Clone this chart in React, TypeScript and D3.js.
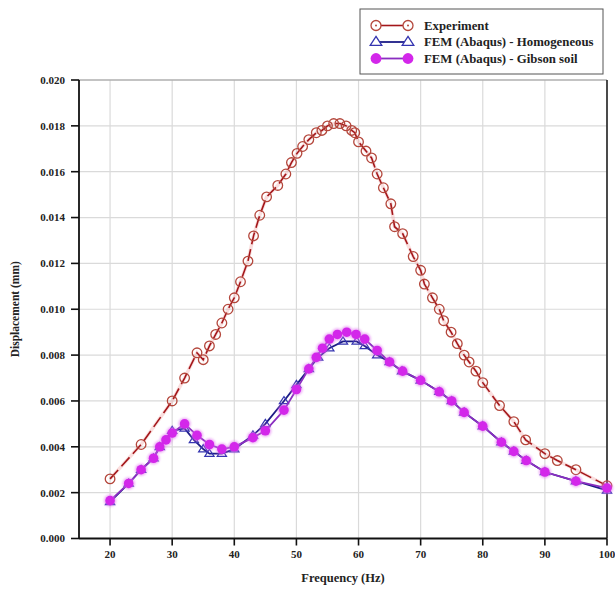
import React from "react";
import * as d3 from "d3";

// Frequency sweep results: measured response vs. two FE models
const expFreq = [20, 25, 30, 32, 34, 35, 36, 37, 38, 39, 40, 41, 42.2, 43.1, 44.1, 45.2, 47, 48.3, 49.2, 50.1, 51, 52, 53.2, 54.1, 55, 56, 57, 58, 58.9, 59.4, 60, 61.2, 62.1, 63, 64, 65.2, 65.8, 67.1, 68.8, 70, 70.6, 71.9, 73, 73.7, 74.9, 75.9, 77, 77.8, 78.9, 80, 82.7, 85, 86.9, 90, 92, 95, 100];
const expDisp = [0.0026, 0.0041, 0.006, 0.007, 0.0081, 0.0078, 0.0084, 0.0089, 0.0094, 0.01, 0.0105, 0.0112, 0.0121, 0.0132, 0.0141, 0.0149, 0.0154, 0.0159, 0.0164, 0.0168, 0.0171, 0.0174, 0.0177, 0.0178, 0.018, 0.0181, 0.0181, 0.018, 0.0178, 0.0177, 0.0173, 0.0169, 0.0166, 0.0159, 0.0153, 0.0146, 0.0136, 0.0133, 0.0123, 0.0117, 0.0111, 0.0105, 0.01, 0.0095, 0.009, 0.0085, 0.008, 0.0077, 0.0073, 0.0068, 0.0058, 0.0051, 0.0043, 0.0037, 0.0034, 0.003, 0.0023];

const homFreq = [20, 23, 25, 27, 28, 30, 32, 33.5, 35, 36, 38, 40, 43, 45, 48, 50, 52, 53.5, 55.3, 57.5, 59.7, 61, 63, 65, 67, 70, 73, 75, 77, 80, 83, 85, 87, 90, 95, 100];
const homDisp = [0.0016, 0.0024, 0.003, 0.0035, 0.004, 0.0047, 0.0048, 0.0043, 0.0039, 0.0037, 0.0037, 0.0039, 0.0045, 0.005, 0.006, 0.0067, 0.0074, 0.0079, 0.0083, 0.0086, 0.0086, 0.0084, 0.008, 0.0077, 0.0073, 0.0069, 0.0064, 0.006, 0.0055, 0.0049, 0.0042, 0.0038, 0.0034, 0.0029, 0.0025, 0.0021];

const gibFreq = [20, 23, 25, 27, 28, 29, 30, 32, 34, 36, 38, 40, 43, 45, 48, 50, 52, 53.2, 54.2, 55.3, 56.6, 58.1, 59.6, 61, 63, 65, 67.1, 70, 73, 75, 77, 80, 83, 85, 87, 90, 95, 100];
const gibDisp = [0.00165, 0.0024, 0.003, 0.0035, 0.004, 0.0043, 0.0046, 0.005, 0.0045, 0.0041, 0.0039, 0.004, 0.0044, 0.0047, 0.0056, 0.0065, 0.0074, 0.0079, 0.0083, 0.0087, 0.0089, 0.009, 0.0089, 0.0087, 0.0082, 0.0077, 0.0073, 0.0069, 0.0064, 0.006, 0.0055, 0.0049, 0.0042, 0.0038, 0.0034, 0.0029, 0.0025, 0.0022];

const xTicks = [20, 30, 40, 50, 60, 70, 80, 90, 100];
const yTicks = [0, 0.002, 0.004, 0.006, 0.008, 0.01, 0.012, 0.014, 0.016, 0.018, 0.02];

const seriesNames = ["Experiment", "FEM (Abaqus) - Homogeneous", "FEM (Abaqus) - Gibson soil"];

const W = 615;
const H = 590;
const plot = { left: 79, right: 607, top: 80, bottom: 538.5 };
const FONT = "'Liberation Serif', 'Times New Roman', serif";

const EXP_LINE = "#a3161a";
const EXP_MARK = "#b4473c";
const HOM_LINE = "#1c1c86";
const HOM_MARK = "#3434b0";
const GIB_LINE = "#8a2ec0";
const GIB_MARK = "#d327ea";

function zip(xs: number[], ys: number[]): [number, number][] {
  return xs.map((x, i) => [x, ys[i]]);
}

function triPath(cx: number, cy: number, s: number) {
  const h = s * 0.9;
  return `M${cx},${cy - h * 0.62}L${cx + s * 0.58},${cy + h * 0.38}L${cx - s * 0.58},${cy + h * 0.38}Z`;
}

export default function App() {
  const x = d3.scaleLinear().domain([15, 100]).range([plot.left, plot.right]);
  const y = d3.scaleLinear().domain([0, 0.02]).range([plot.bottom, plot.top]);
  const line = d3
    .line<[number, number]>()
    .x((d) => x(d[0]))
    .y((d) => y(d[1]));

  const exp = zip(expFreq, expDisp);
  const hom = zip(homFreq, homDisp);
  const gib = zip(gibFreq, gibDisp);

  const legX = 360;
  const legY = 9;
  const rowY = [25.5, 42, 58.5];
  const mk0 = 376;
  const mk1 = 408;

  return (
    <div style={{ position: "absolute", left: 0, top: 0 }}>
      <svg width={W} height={H} style={{ display: "block", background: "#fff" }}>
        <defs>
          <filter id="glow" x="-50%" y="-50%" width="200%" height="200%">
            <feGaussianBlur stdDeviation="1.2" />
          </filter>
        </defs>

        {/* grid */}
        <g stroke="#dadada" strokeWidth={1.2}>
          {xTicks.map((t) => (
            <line key={"gx" + t} x1={x(t)} x2={x(t)} y1={plot.top} y2={plot.bottom} />
          ))}
          {yTicks.map((t) => (
            <line key={"gy" + t} x1={plot.left} x2={plot.right} y1={y(t)} y2={y(t)} />
          ))}
        </g>

        {/* frame */}
        <line x1={plot.left} x2={plot.right} y1={plot.top} y2={plot.top} stroke="#9a9a9a" strokeWidth={1} />
        <line x1={plot.right} x2={plot.right} y1={plot.top} y2={plot.bottom} stroke="#222" strokeWidth={1.6} />
        <line x1={plot.left} x2={plot.left} y1={plot.top} y2={plot.bottom} stroke="#111" strokeWidth={1.8} />
        <line x1={plot.left} x2={plot.right} y1={plot.bottom} y2={plot.bottom} stroke="#111" strokeWidth={1.8} />

        {/* axes */}
        <g fontFamily={FONT} fontWeight="bold" fontSize={11} fill="#222">
          {yTicks.map((t) => (
            <g key={"ty" + t}>
              <line x1={plot.left - 8} x2={plot.left} y1={y(t)} y2={y(t)} stroke="#111" strokeWidth={1.6} />
              <text x={plot.left - 14} y={y(t)} dy="0.35em" textAnchor="end">
                {d3.format(".3f")(t)}
              </text>
            </g>
          ))}
          {xTicks.map((t) => (
            <g key={"tx" + t}>
              <line x1={x(t)} x2={x(t)} y1={plot.bottom} y2={plot.bottom + 7} stroke="#111" strokeWidth={1.6} />
              <text x={x(t)} y={plot.bottom + 16} dy="0.35em" textAnchor="middle">
                {t}
              </text>
            </g>
          ))}
          <text x={(plot.left + plot.right) / 2} y={582} textAnchor="middle" fontSize={12.5}>
            Frequency (Hz)
          </text>
          <text
            transform={`translate(19, ${(plot.top + plot.bottom) / 2}) rotate(-90)`}
            textAnchor="middle"
            fontSize={11.5}
          >
            Displacement (mm)
          </text>
        </g>

        {/* experiment */}
        <path d={line(exp) ?? ""} fill="none" stroke="#f2a0a0" strokeWidth={3.5} opacity={0.35} />
        <path d={line(exp) ?? ""} fill="none" stroke={EXP_LINE} strokeWidth={1.6} strokeDasharray="12,5" />
        {exp.map((d, i) => (
          <circle key={"e" + i} cx={x(d[0])} cy={y(d[1])} r={4.8} fill="none" stroke={EXP_MARK} strokeWidth={1.3} />
        ))}

        {/* homogeneous model */}
        <path d={line(hom) ?? ""} fill="none" stroke={HOM_LINE} strokeWidth={1.8} />
        {hom.map((d, i) => (
          <path key={"h" + i} d={triPath(x(d[0]), y(d[1]), 8)} fill="none" stroke={HOM_MARK} strokeWidth={1.2} />
        ))}

        {/* Gibson soil model */}
        <path d={line(gib) ?? ""} fill="none" stroke={GIB_LINE} strokeWidth={1.8} />
        <g filter="url(#glow)" opacity={0.55}>
          {gib.map((d, i) => (
            <circle key={"gg" + i} cx={x(d[0])} cy={y(d[1])} r={6.2} fill="#e070f0" />
          ))}
        </g>
        {gib.map((d, i) => (
          <circle key={"g" + i} cx={x(d[0])} cy={y(d[1])} r={4.8} fill={GIB_MARK} />
        ))}

        {/* legend */}
        <rect x={legX} y={legY} width={243} height={65} fill="#fff" stroke="#555" strokeWidth={1} />
        <g fontFamily={FONT} fontWeight="bold" fontSize={12.8} fill="#222">
          <line x1={mk0} x2={mk1} y1={rowY[0]} y2={rowY[0]} stroke={EXP_LINE} strokeWidth={1.6} />
          {[mk0, mk1].map((cx) => (
            <g key={"le" + cx}>
              <circle cx={cx} cy={rowY[0]} r={5} fill="#fff" stroke={EXP_MARK} strokeWidth={1.3} />
              <circle cx={cx} cy={rowY[0]} r={1} fill={EXP_MARK} />
            </g>
          ))}
          <line x1={mk0} x2={mk1} y1={rowY[1]} y2={rowY[1]} stroke={HOM_LINE} strokeWidth={1.8} />
          {[mk0, mk1].map((cx) => (
            <path key={"lh" + cx} d={triPath(cx, rowY[1], 10)} fill="#fff" stroke={HOM_MARK} strokeWidth={1.3} />
          ))}
          <line x1={mk0} x2={mk1} y1={rowY[2]} y2={rowY[2]} stroke={GIB_LINE} strokeWidth={1.8} />
          {[mk0, mk1].map((cx) => (
            <circle key={"lg" + cx} cx={cx} cy={rowY[2]} r={5.4} fill={GIB_MARK} />
          ))}
          {seriesNames.map((n, i) => (
            <text key={n} x={424} y={rowY[i]} dy="0.35em">
              {n}
            </text>
          ))}
        </g>
      </svg>
    </div>
  );
}
